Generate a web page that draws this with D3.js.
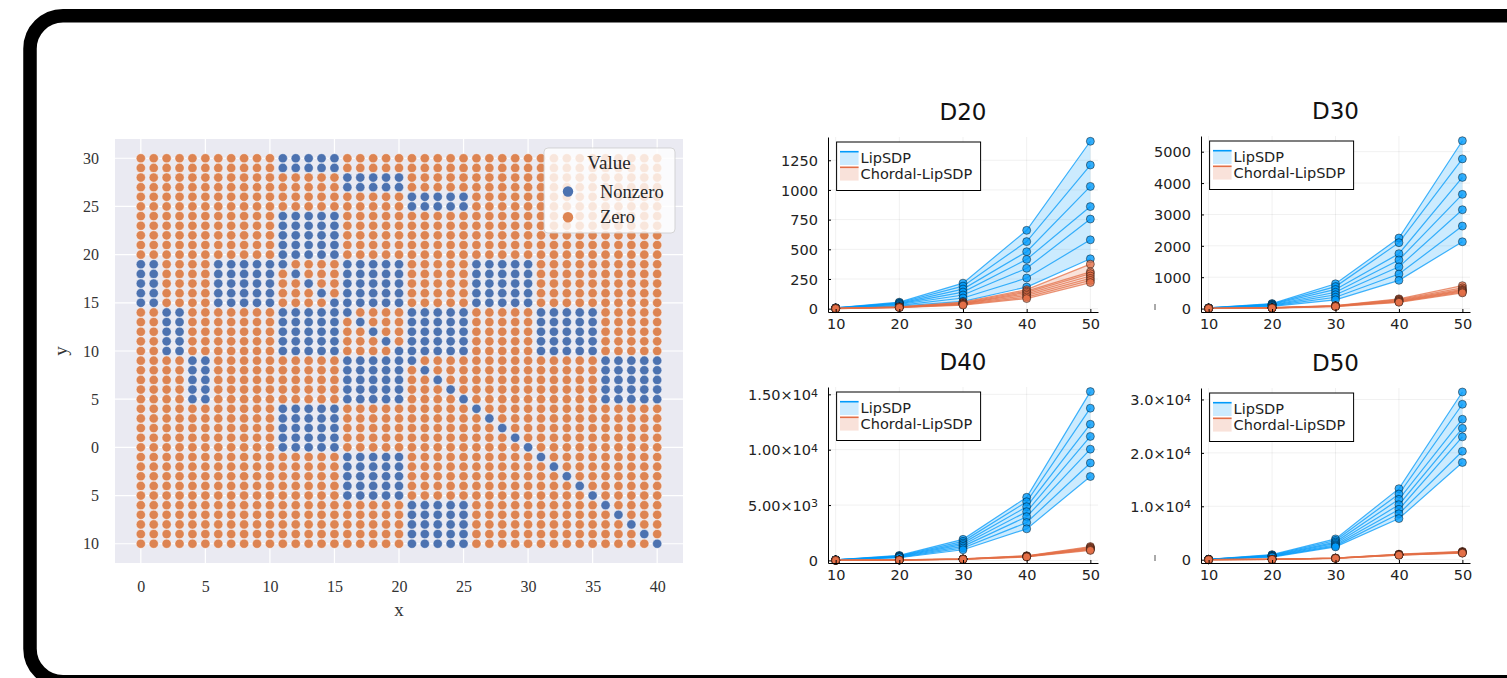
<!DOCTYPE html>
<html>
<head>
<meta charset="utf-8">
<script src="https://cdn.jsdelivr.net/npm/d3@7"></script>
<style>
  body { margin: 0; background: #fff; }
  svg { display: block; }
</style>
</head>
<body>
<svg id="chart" width="1507" height="678"></svg>
<script>
// ---------- left: sparsity pattern ----------
const gridX = d3.range(0, 41);
const gridY = d3.range(30, -11, -1);
// one string per row (y = 30 at top, -10 at bottom); 1 = Nonzero, 0 = Zero
const patternRows = [
  "00 00 00 00000 11111 00000 00000 00000 00000 00000",
  "00 00 00 00000 11111 00000 00000 00000 00000 00000",
  "00 00 00 00000 00000 11111 00000 00000 00000 00000",
  "00 00 00 00000 00000 11111 00000 00000 00000 00000",
  "00 00 00 00000 00000 00000 11111 00000 00000 00000",
  "00 00 00 00000 00000 00000 11111 00000 00000 00000",
  "00 00 00 00000 11111 00000 00000 00000 00000 00000",
  "00 00 00 00000 11111 00000 00000 00000 00000 00000",
  "00 00 00 00000 11111 00000 00000 00000 00000 00000",
  "00 00 00 00000 11111 00000 00000 00000 00000 00000",
  "00 00 00 00000 11111 00000 00000 00000 00000 00000",
  "11 00 00 11111 10000 11111 00000 11111 00000 00000",
  "11 00 00 11111 01000 11111 00000 11111 00000 00000",
  "11 00 00 11111 00100 11111 00000 11111 00000 00000",
  "11 00 00 11111 00010 11111 00000 11111 00000 00000",
  "11 00 00 11111 00001 11111 00000 11111 00000 00000",
  "00 11 00 00000 11111 10000 11111 00000 11111 00000",
  "00 11 00 00000 11111 01000 11111 00000 11111 00000",
  "00 11 00 00000 11111 00100 11111 00000 11111 00000",
  "00 11 00 00000 11111 00010 11111 00000 11111 00000",
  "00 11 00 00000 11111 00001 11111 00000 11111 00000",
  "00 00 11 00000 00000 11111 10000 00000 00000 11111",
  "00 00 11 00000 00000 11111 01000 00000 00000 11111",
  "00 00 11 00000 00000 11111 00100 00000 00000 11111",
  "00 00 11 00000 00000 11111 00010 00000 00000 11111",
  "00 00 11 00000 00000 11111 00001 00000 00000 11111",
  "00 00 00 00000 11111 00000 00000 10000 00000 00000",
  "00 00 00 00000 11111 00000 00000 01000 00000 00000",
  "00 00 00 00000 11111 00000 00000 00100 00000 00000",
  "00 00 00 00000 11111 00000 00000 00010 00000 00000",
  "00 00 00 00000 11111 00000 00000 00001 00000 00000",
  "00 00 00 00000 00000 11111 00000 00000 10000 00000",
  "00 00 00 00000 00000 11111 00000 00000 01000 00000",
  "00 00 00 00000 00000 11111 00000 00000 00100 00000",
  "00 00 00 00000 00000 11111 00000 00000 00010 00000",
  "00 00 00 00000 00000 11111 00000 00000 00001 00000",
  "00 00 00 00000 00000 00000 11111 00000 00000 10000",
  "00 00 00 00000 00000 00000 11111 00000 00000 01000",
  "00 00 00 00000 00000 00000 11111 00000 00000 00100",
  "00 00 00 00000 00000 00000 11111 00000 00000 00010",
  "00 00 00 00000 00000 00000 11111 00000 00000 00001"
];
const valueNames = ["Nonzero", "Zero"];
const leftXTicks = [0, 5, 10, 15, 20, 25, 30, 35, 40];
const leftYTicks = [-10, -5, 0, 5, 10, 15, 20, 25, 30];
const leftYTickLabels = ["10", "5", "0", "5", "10", "15", "20", "25", "30"];

// ---------- right: timing panels ----------
const sizes = [10, 20, 30, 40, 50];
const seriesNames = ["LipSDP", "Chordal-LipSDP"];

const d20Lip = [
  [8, 55, 215, 660, 1410],
  [7, 50, 190, 565, 1210],
  [6, 45, 165, 480, 1030],
  [5, 40, 140, 415, 860],
  [4, 35, 115, 340, 755],
  [3, 28, 90, 258, 580],
  [2, 22, 62, 182, 420]
];
const d20Chordal = [
  [3, 16, 55, 160, 375],
  [2.5, 14, 50, 148, 310],
  [2, 13, 45, 138, 295],
  [2, 12, 42, 125, 275],
  [1.5, 11, 38, 112, 255],
  [1, 10, 34, 98, 238],
  [1, 9, 30, 85, 220]
];
const d30Lip = [
  [25, 160, 790, 2250, 5350],
  [22, 145, 700, 2100, 4770],
  [20, 130, 610, 1750, 4180],
  [18, 115, 520, 1550, 3640],
  [15, 100, 440, 1330, 3150],
  [12, 85, 360, 1100, 2630],
  [10, 70, 280, 900, 2130]
];
const d30Chordal = [
  [5, 30, 95, 310, 730],
  [5, 28, 90, 290, 660],
  [4, 25, 85, 270, 610],
  [4, 22, 80, 250, 580],
  [3, 20, 75, 230, 560],
  [3, 18, 70, 215, 530],
  [2, 15, 65, 200, 500]
];
const d40Lip = [
  [60, 450, 1900, 5700, 15250],
  [55, 410, 1720, 5300, 13750],
  [50, 375, 1560, 4850, 12300],
  [45, 345, 1420, 4400, 11200],
  [40, 310, 1270, 3950, 10050],
  [35, 275, 1120, 3420, 8800],
  [30, 240, 960, 2850, 7580]
];
const d40Chordal = [
  [8, 45, 140, 420, 1250],
  [7, 42, 130, 400, 1180],
  [6, 40, 122, 380, 1120],
  [6, 37, 116, 360, 1070],
  [5, 34, 110, 345, 1020],
  [5, 31, 104, 330, 960],
  [4, 28, 98, 310, 900]
];
const d50Lip = [
  [90, 950, 3900, 13300, 31400],
  [80, 860, 3600, 12300, 29100],
  [70, 780, 3300, 11300, 26300],
  [62, 700, 3050, 10300, 24600],
  [55, 630, 2800, 9400, 23000],
  [48, 560, 2600, 8600, 20300],
  [40, 490, 2400, 7700, 18200]
];
const d50Chordal = [
  [12, 85, 320, 1050, 1550],
  [11, 80, 305, 1000, 1480],
  [10, 75, 290, 960, 1420],
  [9, 70, 280, 930, 1370],
  [8, 65, 270, 900, 1320],
  [7, 60, 258, 870, 1270],
  [6, 55, 245, 840, 1220]
];

const d20Ticks = [0, 250, 500, 750, 1000, 1250];
const d20Labels = [["0"], ["250"], ["500"], ["750"], ["1000"], ["1250"]];
const d30Ticks = [0, 1000, 2000, 3000, 4000, 5000];
const d30Labels = [["0"], ["1000"], ["2000"], ["3000"], ["4000"], ["5000"]];
const d40Ticks = [0, 5000, 10000, 15000];
const d40Labels = [["0"], ["5.00×10", "3"], ["1.00×10", "4"], ["1.50×10", "4"]];
const d50Ticks = [0, 10000, 20000, 30000];
const d50Labels = [["0"], ["1.0×10", "4"], ["2.0×10", "4"], ["3.0×10", "4"]];

const svg = d3.select("#chart");

// outer rounded frame
svg.append("rect")
  .attr("x", 30).attr("y", 15.7)
  .attr("width", 1530).attr("height", 666)
  .attr("rx", 33)
  .attr("fill", "none")
  .attr("stroke", "#000")
  .attr("stroke-width", 13.5);

// ===== left scatter =====
const serif = "'Liberation Serif', 'DejaVu Serif', serif";
const colors = { Nonzero: "#4C72B0", Zero: "#DD8452" };
const lx = d3.scaleLinear().domain([-2, 42]).range([115, 683]);
const ly = d3.scaleLinear().domain([-12, 32]).range([563, 139]);

const left = svg.append("g");
left.append("rect")
  .attr("x", lx(-2)).attr("y", ly(32))
  .attr("width", lx(42) - lx(-2)).attr("height", ly(-12) - ly(32))
  .attr("fill", "#EAEAF2");

left.selectAll(".gx").data(leftXTicks).join("line")
  .attr("x1", d => lx(d)).attr("x2", d => lx(d))
  .attr("y1", ly(32)).attr("y2", ly(-12))
  .attr("stroke", "#fff").attr("stroke-width", 1.2);
left.selectAll(".gy").data(leftYTicks).join("line")
  .attr("y1", d => ly(d)).attr("y2", d => ly(d))
  .attr("x1", lx(-2)).attr("x2", lx(42))
  .attr("stroke", "#fff").attr("stroke-width", 1.2);

const cells = [];
patternRows.forEach((row, i) => {
  const chars = row.replace(/ /g, "");
  gridX.forEach(x => {
    cells.push({ x: x, y: gridY[i], value: chars[x] === "1" ? "Nonzero" : "Zero" });
  });
});

left.selectAll(".cell").data(cells).join("circle")
  .attr("class", "cell")
  .attr("cx", d => lx(d.x))
  .attr("cy", d => ly(d.y))
  .attr("r", 4.6)
  .attr("fill", d => colors[d.value])
  .attr("stroke", "#fff")
  .attr("stroke-width", 0.4);

left.append("g")
  .attr("transform", `translate(0,${ly(-12)})`)
  .call(d3.axisBottom(lx).tickValues(leftXTicks).tickSize(0).tickPadding(18))
  .call(a => a.select(".domain").remove())
  .call(a => a.selectAll("text").attr("font-family", serif).attr("font-size", 16).attr("fill", "#333"));

left.append("g")
  .attr("transform", `translate(${lx(-2)},0)`)
  .call(d3.axisLeft(ly).tickValues(leftYTicks).tickSize(0).tickPadding(16)
    .tickFormat((d, i) => leftYTickLabels[i]))
  .call(a => a.select(".domain").remove())
  .call(a => a.selectAll("text").attr("font-family", serif).attr("font-size", 16).attr("fill", "#333"));

left.append("text")
  .attr("x", lx(20)).attr("y", 616)
  .attr("text-anchor", "middle")
  .attr("font-family", serif).attr("font-size", 19).attr("fill", "#333")
  .text("x");
left.append("text")
  .attr("transform", `translate(67,${ly(10)}) rotate(-90)`)
  .attr("text-anchor", "middle")
  .attr("font-family", serif).attr("font-size", 19).attr("fill", "#333")
  .text("y");

// legend
const lg = left.append("g").attr("transform", "translate(544,148)");
lg.append("rect")
  .attr("width", 131).attr("height", 85).attr("rx", 4)
  .attr("fill", "#fff").attr("fill-opacity", 0.8)
  .attr("stroke", "#ccc").attr("stroke-opacity", 0.8);
lg.append("text")
  .attr("x", 65).attr("y", 21)
  .attr("text-anchor", "middle")
  .attr("font-family", serif).attr("font-size", 19).attr("fill", "#262626")
  .text("Value");
valueNames.forEach((name, i) => {
  lg.append("circle")
    .attr("cx", 24).attr("cy", 43.5 + i * 25.8).attr("r", 5.2)
    .attr("fill", colors[name]);
  lg.append("text")
    .attr("x", 56).attr("y", 49.5 + i * 25.8)
    .attr("font-family", serif).attr("font-size", 18.5).attr("fill", "#262626")
    .text(name);
});

// ===== right panels =====
const sans = "'DejaVu Sans', sans-serif";
const lipColor = "#009AFA";
const chordalColor = "#E36F47";

const panels = [
  { title: "D20", lip: d20Lip, chordal: d20Chordal, yDomain: [-28, 1446], yTicks: d20Ticks, yLabels: d20Labels, box: [828, 137, 1098, 312], stray: false },
  { title: "D30", lip: d30Lip, chordal: d30Chordal, yDomain: [-109, 5500], yTicks: d30Ticks, yLabels: d30Labels, box: [1201, 136, 1470, 312], stray: true },
  { title: "D40", lip: d40Lip, chordal: d40Chordal, yDomain: [-235, 15664], yTicks: d40Ticks, yLabels: d40Labels, box: [828, 387, 1098, 563], stray: false },
  { title: "D50", lip: d50Lip, chordal: d50Chordal, yDomain: [-616, 32146], yTicks: d50Ticks, yLabels: d50Labels, box: [1201, 388, 1470, 563], stray: true }
];

function drawPanel(p) {
  const [L, T, R, B] = p.box;
  const x = d3.scaleLinear().domain([8.8, 51.2]).range([L, R]);
  const y = d3.scaleLinear().domain(p.yDomain).range([B, T]);
  const g = svg.append("g");

  // faint grid
  g.selectAll(".gx").data(sizes).join("line")
    .attr("x1", d => x(d)).attr("x2", d => x(d))
    .attr("y1", T).attr("y2", B)
    .attr("stroke", "#000").attr("stroke-opacity", 0.08).attr("stroke-width", 0.8);
  g.selectAll(".gy").data(p.yTicks).join("line")
    .attr("y1", d => y(d)).attr("y2", d => y(d))
    .attr("x1", L).attr("x2", R)
    .attr("stroke", "#000").attr("stroke-opacity", 0.08).attr("stroke-width", 0.8);

  function drawSeries(lines, color) {
    const lower = sizes.map((s, i) => d3.min(lines, l => l[i]));
    const upper = sizes.map((s, i) => d3.max(lines, l => l[i]));
    const band = d3.area()
      .x((d, i) => x(sizes[i]))
      .y0((d, i) => y(lower[i]))
      .y1((d, i) => y(upper[i]));
    g.append("path").datum(sizes)
      .attr("d", band)
      .attr("fill", color).attr("fill-opacity", 0.2);

    const line = d3.line().x((d, i) => x(sizes[i])).y(d => y(d));
    lines.forEach(l => {
      g.append("path").datum(l)
        .attr("d", line)
        .attr("fill", "none")
        .attr("stroke", color).attr("stroke-opacity", 0.75).attr("stroke-width", 1.2);
    });
    lines.forEach(l => {
      g.selectAll(null).data(l).join("circle")
        .attr("cx", (d, i) => x(sizes[i]))
        .attr("cy", d => y(d))
        .attr("r", 4)
        .attr("fill", color).attr("fill-opacity", 0.8)
        .attr("stroke", "#000").attr("stroke-opacity", 0.55).attr("stroke-width", 0.8);
    });
  }
  drawSeries(p.lip, lipColor);
  drawSeries(p.chordal, chordalColor);

  // axes
  g.append("g")
    .attr("transform", `translate(0,${B})`)
    .call(d3.axisBottom(x).tickValues(sizes).tickSize(-3).tickSizeOuter(0).tickPadding(7))
    .call(a => a.select(".domain").attr("stroke", "#000").attr("stroke-width", 1))
    .call(a => a.selectAll(".tick line").attr("stroke", "#000"))
    .call(a => a.selectAll("text").attr("font-family", sans).attr("font-size", 14.5).attr("fill", "#222"));

  g.append("g")
    .attr("transform", `translate(${L},0)`)
    .call(d3.axisLeft(y).tickValues(p.yTicks).tickSize(-3).tickSizeOuter(0).tickFormat(""))
    .call(a => a.select(".domain").attr("stroke", "#000").attr("stroke-width", 1))
    .call(a => a.selectAll(".tick line").attr("stroke", "#000"))
    .call(a => a.selectAll(".tick text").remove())
    .call(a => a.selectAll(".tick").each(function (d, i) {
      const t = d3.select(this).append("text")
        .attr("x", -10).attr("dy", "0.36em")
        .attr("text-anchor", "end")
        .attr("font-family", sans).attr("font-size", 14.5).attr("fill", "#222");
      t.append("tspan").text(p.yLabels[i][0]);
      if (p.yLabels[i][1]) {
        t.append("tspan").attr("dy", "-0.32em").attr("font-size", 11).text(p.yLabels[i][1]);
      }
    }));

  if (p.stray) {
    g.append("line")
      .attr("x1", L - 46).attr("x2", L - 46)
      .attr("y1", B - 8).attr("y2", B - 2)
      .attr("stroke", "#555").attr("stroke-width", 1);
  }

  // title
  g.append("text")
    .attr("x", (L + R) / 2).attr("y", T - 17)
    .attr("text-anchor", "middle")
    .attr("font-family", sans).attr("font-size", 23).attr("fill", "#111")
    .text(p.title);

  // legend
  const lgd = g.append("g").attr("transform", `translate(${L + 8.6},${T + 5})`);
  lgd.append("rect")
    .attr("width", 144).attr("height", 48.5)
    .attr("fill", "#fff").attr("stroke", "#000").attr("stroke-width", 1);
  [lipColor, chordalColor].forEach((c, i) => {
    const yy = 9.7 + i * 15.6;
    lgd.append("rect")
      .attr("x", 3.4).attr("y", yy).attr("width", 18.6).attr("height", 13.3)
      .attr("fill", c).attr("fill-opacity", 0.2);
    lgd.append("line")
      .attr("x1", 3.4).attr("x2", 22).attr("y1", yy).attr("y2", yy)
      .attr("stroke", c).attr("stroke-width", 1.6);
    lgd.append("text")
      .attr("x", 24).attr("y", yy + 11.5)
      .attr("font-family", sans).attr("font-size", 14.5).attr("fill", "#222")
      .text(seriesNames[i]);
  });
}

panels.forEach(drawPanel);
</script>
</body>
</html>
